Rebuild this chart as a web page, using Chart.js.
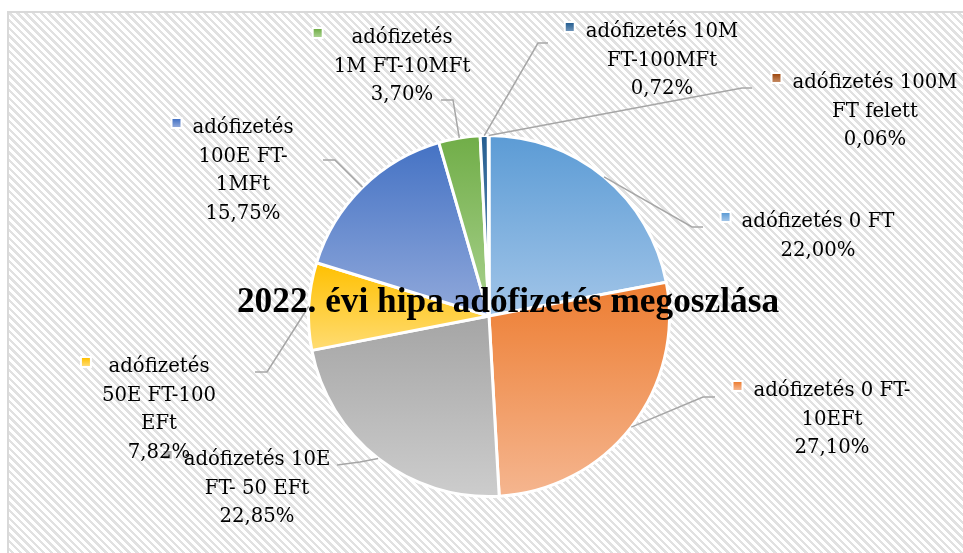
<!DOCTYPE html>
<html>
<head>
<meta charset="utf-8">
<script src="https://cdn.jsdelivr.net/npm/chart.js@4.4.1/dist/chart.umd.min.js"></script>
<style>
  html, body { margin: 0; padding: 0; background: #fff; }
  #wrap {
    position: relative;
    width: 963px;
    height: 553px;
  }
  #frame {
    position: absolute;
    left: 7px; top: 11px; right: -4px; bottom: -4px;
    border: 2px solid #d9d9d9;
    background: repeating-linear-gradient(45deg, #ffffff 0px, #ffffff 3px, #e1e1e1 3px, #e1e1e1 5.5px);
  }
  canvas { position: absolute; left: 0; top: 0; }
</style>
</head>
<body>
<div id="wrap">
  <div id="frame"></div>
  <canvas id="pieChart" width="963" height="553"></canvas>
</div>
<script>
// 2022. évi hipa adófizetés megoszlása
const categories = [
    ["adófizetés 0 FT"],
    ["adófizetés 0 FT-", "10EFt"],
    ["adófizetés 10E", "FT- 50 EFt"],
    ["adófizetés", "50E FT-100", "EFt"],
    ["adófizetés", "100E FT-", "1MFt"],
    ["adófizetés", "1M FT-10MFt"],
    ["adófizetés 10M", "FT-100MFt"],
    ["adófizetés 100M", "FT felett"]
];
const shares = [22.00, 27.10, 22.85, 7.82, 15.75, 3.70, 0.72, 0.06];
const percentLabels = ["22,00%", "27,10%", "22,85%", "7,82%", "15,75%", "3,70%", "0,72%", "0,06%"];

// slice colours: top (base) and bottom (light) of each gradient
const topColors = ['#5b9bd5', '#ed7d31', '#a5a5a5', '#ffc000', '#4472c4', '#70ad47', '#255e91', '#9e480e'];
const bottomColors = ['#a2c5e8', '#f5b690', '#cdcdcd', '#ffdc73', '#91a9db', '#aad28f', '#6d93b8', '#c58a62'];

// label layout: text centre x, first baseline y, elbow point, end point
const labelLayout = [
    { x: 818, y: 227, elbow: [692, 227], end: [703, 227] },
    { x: 832, y: 396, elbow: [703, 397], end: [715, 397] },
    { x: 257, y: 465, elbow: [360, 462], end: [337, 465] },
    { x: 159, y: 372, elbow: [267, 372], end: [255, 372] },
    { x: 243, y: 133, elbow: [335, 160], end: [323, 160] },
    { x: 402, y: 43, elbow: [453, 100], end: [441, 100] },
    { x: 662, y: 37, elbow: [538, 43], end: [548, 43] },
    { x: 875, y: 88, elbow: [742, 88], end: [752, 88] }
];

const LABEL_FONT = '19.7px "DejaVu Serif"';
const TITLE_FONT = 'bold 35.3px "Liberation Serif"';
const LINE_H = 28.5;

function sliceGradient(context) {
    const chart = context.chart;
    const i = context.dataIndex;
    const area = chart.chartArea;
    if (!area) return topColors[i];
    const cx = (area.left + area.right) / 2;
    const cy = (area.top + area.bottom) / 2;
    const r = Math.min(area.right - area.left, area.bottom - area.top) / 2;
    const total = shares.reduce((a, b) => a + b, 0);
    let start = 0;
    for (let k = 0; k < i; k++) start += shares[k];
    const a0 = start / total * Math.PI * 2;
    const a1 = (start + shares[i]) / total * Math.PI * 2;
    let minY = cy, maxY = cy;
    for (let s = 0; s <= 60; s++) {
        const a = a0 + (a1 - a0) * s / 60;
        const y = cy - r * Math.cos(a);
        minY = Math.min(minY, y);
        maxY = Math.max(maxY, y);
    }
    const g = chart.ctx.createLinearGradient(0, minY, 0, maxY);
    g.addColorStop(0, topColors[i]);
    g.addColorStop(1, bottomColors[i]);
    return g;
}

const calloutPlugin = {
    id: 'callouts',
    afterDatasetsDraw(chart) {
        const ctx = chart.ctx;
        const meta = chart.getDatasetMeta(0);
        ctx.save();
        // leader lines
        meta.data.forEach((arc, i) => {
            const lay = labelLayout[i];
            const mid = (arc.startAngle + arc.endAngle) / 2;
            const sx = arc.x + Math.cos(mid) * arc.outerRadius;
            const sy = arc.y + Math.sin(mid) * arc.outerRadius;
            ctx.beginPath();
            ctx.moveTo(sx, sy);
            ctx.lineTo(lay.elbow[0], lay.elbow[1]);
            ctx.lineTo(lay.end[0], lay.end[1]);
            ctx.strokeStyle = '#a6a6a6';
            ctx.lineWidth = 1.5;
            ctx.stroke();
        });
        // title, drawn across the pie
        ctx.font = TITLE_FONT;
        ctx.fillStyle = '#000';
        ctx.textAlign = 'center';
        ctx.textBaseline = 'alphabetic';
        ctx.fillText('2022. évi hipa adófizetés megoszlása', 508, 312);
        // labels
        ctx.font = LABEL_FONT;
        meta.data.forEach((arc, i) => {
            const lay = labelLayout[i];
            const lines = categories[i].concat([percentLabels[i]]);
            let w = 0;
            lines.forEach(l => { w = Math.max(w, ctx.measureText(l).width); });
            lines.forEach((l, k) => {
                ctx.fillStyle = '#000';
                ctx.fillText(l, lay.x, lay.y + k * LINE_H);
            });
            // legend key square
            const left = lay.x - w / 2;
            const mx = left - 20, my = lay.y - 14;
            ctx.fillStyle = '#fff';
            ctx.fillRect(mx - 2, my - 2, 12, 12);
            const g = ctx.createLinearGradient(0, my, 0, my + 8);
            g.addColorStop(0, topColors[i]);
            g.addColorStop(1, bottomColors[i]);
            ctx.fillStyle = g;
            ctx.fillRect(mx, my, 8, 8);
        });
        ctx.restore();
    }
};

new Chart(document.getElementById('pieChart').getContext('2d'), {
    type: 'pie',
    data: {
        labels: categories,
        datasets: [{
            data: shares,
            backgroundColor: sliceGradient,
            borderColor: '#ffffff',
            borderWidth: 3
        }]
    },
    options: {
        responsive: false,
        animation: false,
        layout: { padding: { left: 307, right: 292, top: 134, bottom: 55 } },
        plugins: {
            legend: { display: false },
            tooltip: { enabled: false },
            title: { display: false }
        }
    },
    plugins: [calloutPlugin]
});
</script>
</body>
</html>
